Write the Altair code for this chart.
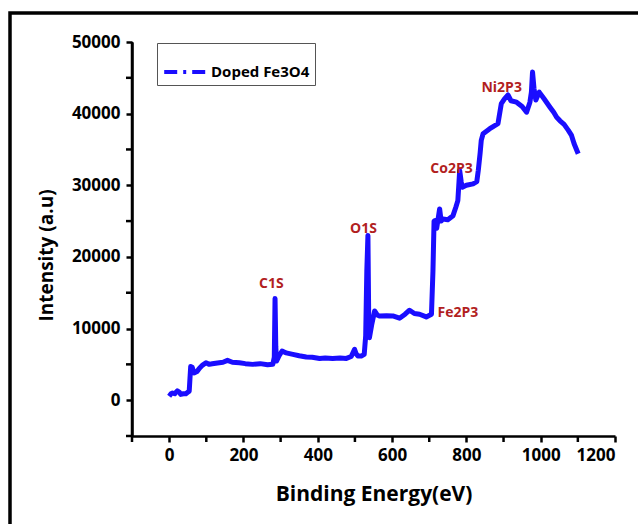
import altair as alt
import pandas as pd

# Binding energy (eV) and intensity (a.u.)
energy = [0, 5, 9, 15, 22, 28, 31, 38, 45, 50, 54, 56, 58, 62, 67, 75, 81, 90, 99, 108,
          116, 130, 145, 157, 170, 189, 205, 225, 245, 265, 279, 283, 285, 287, 289, 296,
          304, 315, 333, 350, 369, 385, 405, 420, 440, 460, 477, 490, 499, 503, 508, 517,
          525, 529, 532, 535, 537, 539, 545, 553, 560, 566, 585, 602, 620, 635, 647, 660,
          674, 692, 706, 710, 713, 715, 720, 728, 732, 737, 750, 764, 772, 777, 782, 786,
          789, 800, 818, 828, 832, 837, 840, 845, 863, 872, 885, 894, 903, 912, 920, 935,
          950, 962, 971, 975, 978, 982, 987, 996, 1010, 1025, 1035, 1043, 1052, 1063, 1074,
          1083, 1090, 1101]
intensity = [560, 900, 1000, 900, 1300, 1100, 800, 900, 900, 1100, 1260, 3000, 4700, 4600,
             3800, 4000, 4430, 4900, 5220, 5000, 5080, 5200, 5300, 5560, 5300, 5220, 5100,
             5000, 5100, 4950, 5000, 6000, 14200, 7500, 5460, 6200, 6860, 6600, 6400, 6200,
             6020, 6000, 5830, 5900, 5830, 5900, 5830, 6100, 7100, 6500, 6160, 6160, 6400,
             9000, 18000, 23000, 12000, 8720, 10500, 12460, 11900, 11760, 11800, 11760, 11440,
             12000, 12560, 12100, 12000, 11620, 12000, 18000, 25000, 25060, 24000, 26700,
             25000, 25300, 25200, 25760, 27000, 27860, 32060, 30500, 29720, 30000, 30200,
             30500, 32060, 34500, 36260, 37200, 37900, 38200, 38600, 41400, 42100, 42600,
             41800, 41600, 41000, 40200, 41600, 43000, 45800, 43500, 41900, 43000, 42000,
             40900, 40200, 39500, 39000, 38500, 37700, 36960, 35800, 34400]
series_name = "Doped Fe3O4"

# Peak annotations
peak_labels = ["C1S", "O1S", "Fe2P3", "Co2P3", "Ni2P3"]
peak_x = [275, 523, 777, 760, 895]
peak_y = [16240, 23940, 12180, 32340, 43540]

x_major = [0, 200, 400, 600, 800, 1000, 1200]
x_minor = [-100, 100, 300, 500, 700, 900, 1100]
y_major = [0, 10000, 20000, 30000, 40000, 50000]
y_minor = [-5000, 5000, 15000, 25000, 35000, 45000]
x_range = [-100, 1200]
y_range = [-5000, 50000]

df = pd.DataFrame({"energy": energy, "intensity": intensity, "series": series_name})
ann = pd.DataFrame({"label": peak_labels, "x": peak_x, "y": peak_y})
xm = pd.DataFrame({"v": x_minor})
ym = pd.DataFrame({"v": y_minor})
yd = pd.DataFrame({"x0": [x_range[0]], "y0": [y_range[0]], "y1": [y_range[1]]})

FONT = "Open Sans"
W, H = 483, 394

x_axis = alt.Axis(
    values=x_major, format="d",
    title="Binding Energy(eV)", grid=False, domain=True,
    domainColor="black", domainWidth=2.5, tickColor="black", tickWidth=2.5, tickSize=6,
    labelFont=FONT, labelFontWeight="bold", labelFontSize=17, labelColor="black",
    labelPadding=5, titleFont=FONT, titleFontWeight="bold", titleFontSize=21,
    titleColor="black", titlePadding=20,
)
y_axis = alt.Axis(
    values=y_major, format="d",
    title="Intensity (a.u)", grid=False, domain=True,
    domainColor="black", domainWidth=2.5, tickColor="black", tickWidth=2.5, tickSize=6,
    labelFont=FONT, labelFontWeight="bold", labelFontSize=17, labelColor="black",
    labelPadding=6, titleFont=FONT, titleFontWeight="bold", titleFontSize=19,
    titleColor="black", titleX=-76, titleY=213, titleAngle=-90, titleAlign="center",
    titleBaseline="bottom",
)

x_scale = alt.Scale(domain=x_range, nice=False, zero=False)
y_scale = alt.Scale(domain=y_range, nice=False, zero=False)

frame = alt.Chart(alt.Data(values=[{"k": 1}])).mark_rect(
    filled=False, stroke="black", strokeWidth=3.5
).encode(
    x=alt.value(-122), x2=alt.value(520), y=alt.value(-29), y2=alt.value(500)
)

line = alt.Chart(df).mark_line(strokeWidth=5, strokeJoin="round").encode(
    x=alt.X("energy:Q", scale=x_scale, axis=x_axis),
    y=alt.Y("intensity:Q", scale=y_scale, axis=y_axis),
    color=alt.Color(
        "series:N",
        scale=alt.Scale(range=["#1a0dff"]),
        legend=alt.Legend(
            title=None, orient="none", legendX=25, legendY=1,
            symbolType="stroke", symbolStrokeWidth=4, symbolDash=[13, 6, 3, 6],
            symbolSize=1900, symbolStrokeColor="#1a0dff",
            labelFont=FONT, labelFontWeight="bold", labelFontSize=15, labelColor="black",
            labelOffset=1, padding=5, strokeColor="#555555", fillColor="white",
            cornerRadius=0,
        ),
    ),
)

labels = alt.Chart(ann).mark_text(
    font=FONT, fontWeight="bold", fontSize=14, color="#b21f1f"
).encode(
    x=alt.X("x:Q", scale=x_scale, axis=x_axis),
    y=alt.Y("y:Q", scale=y_scale, axis=y_axis),
    text="label:N",
)

x_minor_ticks = alt.Chart(xm).mark_rule(color="black", strokeWidth=2.5).encode(
    x=alt.X("v:Q", scale=x_scale, axis=x_axis),
    y=alt.value(H), y2=alt.value(H + 6),
)
y_minor_ticks = alt.Chart(ym).mark_rule(color="black", strokeWidth=2.5).encode(
    y=alt.Y("v:Q", scale=y_scale, axis=y_axis),
    x=alt.value(0), x2=alt.value(-6),
)
y_domain = alt.Chart(yd).mark_rule(color="black", strokeWidth=2.5).encode(
    x=alt.X("x0:Q", scale=x_scale, axis=x_axis),
    y=alt.Y("y0:Q", scale=y_scale, axis=y_axis),
    y2="y1:Q",
)

chart = alt.layer(frame, line, labels, x_minor_ticks, y_minor_ticks, y_domain).properties(
    width=W, height=H,
    autosize=alt.AutoSizeParams(type="none"),
    padding={"left": 132, "top": 42, "right": 23, "bottom": 88},
    background="white",
).configure_view(stroke=None)

chart.save("out.html", embed_options={"renderer": "svg", "actions": False})
